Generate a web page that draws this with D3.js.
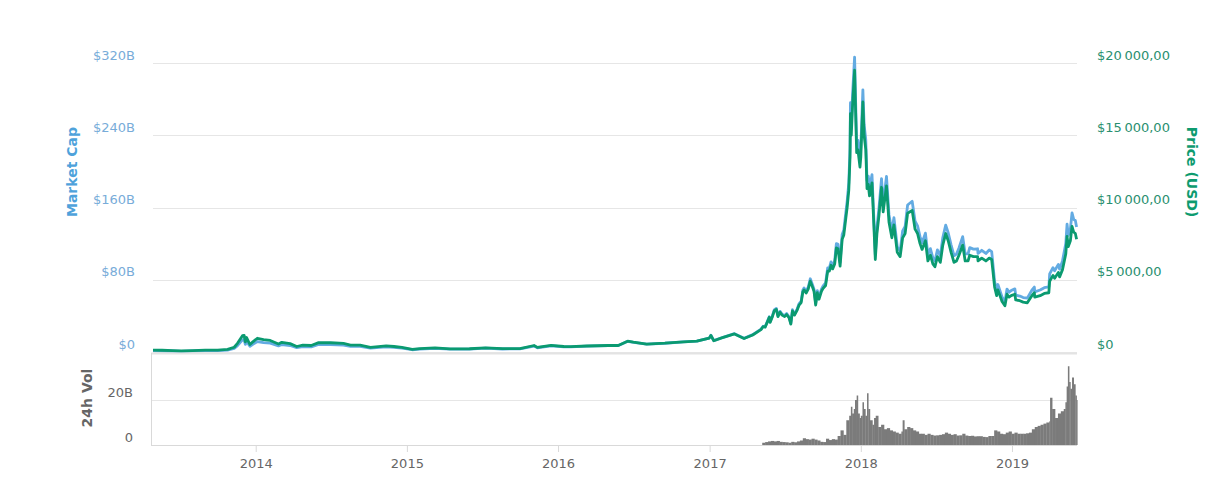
<!DOCTYPE html>
<html><head><meta charset="utf-8">
<script src="https://cdn.jsdelivr.net/npm/d3@7"></script>
<style>
html,body{margin:0;padding:0;background:#fff;}
svg{display:block;font-family:"DejaVu Sans",sans-serif;}
</style></head><body>
<svg id="chart" width="1214" height="493"></svg>
<script>
// ---- data ----
const dates = ["2013-04-28","2013-05-20","2013-06-15","2013-07-05","2013-08-01","2013-09-01","2013-10-01","2013-10-25","2013-11-10","2013-11-18","2013-11-30","2013-12-04","2013-12-07","2013-12-10","2013-12-18","2013-12-25","2014-01-05","2014-01-20","2014-02-05","2014-02-25","2014-03-05","2014-03-25","2014-04-10","2014-04-25","2014-05-15","2014-06-02","2014-07-01","2014-08-01","2014-08-18","2014-09-10","2014-10-05","2014-11-12","2014-12-01","2014-12-20","2015-01-14","2015-02-01","2015-03-10","2015-04-15","2015-06-01","2015-07-10","2015-08-20","2015-10-01","2015-11-04","2015-11-12","2015-12-15","2016-01-15","2016-02-01","2016-03-10","2016-05-01","2016-05-25","2016-06-17","2016-07-01","2016-08-02","2016-09-15","2016-10-30","2016-12-01","2016-12-31","2017-01-04","2017-01-11","2017-02-01","2017-03-02","2017-03-25","2017-04-15",
"2017-05-05","2017-05-10","2017-05-15","2017-05-20","2017-05-25","2017-05-27","2017-06-01","2017-06-06","2017-06-11","2017-06-15","2017-06-20","2017-06-25","2017-07-01","2017-07-06","2017-07-12","2017-07-16","2017-07-20","2017-07-25","2017-07-31","2017-08-05","2017-08-10","2017-08-14","2017-08-17","2017-08-22","2017-08-27","2017-09-01","2017-09-05","2017-09-10","2017-09-14","2017-09-18","2017-09-22","2017-09-28","2017-10-02","2017-10-08","2017-10-13","2017-10-17","2017-10-21","2017-10-25","2017-10-30","2017-11-03","2017-11-07","2017-11-12","2017-11-17","2017-11-21","2017-11-26","2017-11-29","2017-12-03","2017-12-06","2017-12-07","2017-12-09","2017-12-12","2017-12-17","2017-12-20","2017-12-22","2017-12-25","2017-12-30",
"2018-01-01","2018-01-06","2018-01-09","2018-01-13","2018-01-16","2018-01-19","2018-01-22","2018-01-28","2018-02-01","2018-02-05","2018-02-09","2018-02-14","2018-02-20","2018-02-24","2018-03-04","2018-03-10","2018-03-17","2018-03-22","2018-03-30","2018-04-06","2018-04-12","2018-04-18","2018-04-24","2018-05-05","2018-05-12","2018-05-18","2018-05-24","2018-05-29","2018-06-06","2018-06-12","2018-06-18","2018-06-24","2018-06-29","2018-07-05","2018-07-12","2018-07-18","2018-07-25","2018-07-31","2018-08-07","2018-08-14","2018-08-20","2018-08-26","2018-09-04","2018-09-10","2018-09-17","2018-09-21","2018-09-30","2018-10-10","2018-10-11","2018-10-20","2018-10-30","2018-11-07","2018-11-13","2018-11-16","2018-11-20","2018-11-25","2018-11-28","2018-12-03","2018-12-08","2018-12-15","2018-12-20","2018-12-25","2018-12-30",
"2019-01-08","2019-01-10","2019-01-20","2019-01-28","2019-02-07","2019-02-18","2019-02-24","2019-02-25","2019-03-10","2019-03-20","2019-03-31","2019-04-02","2019-04-10","2019-04-14","2019-04-23","2019-04-26","2019-05-03","2019-05-11","2019-05-14","2019-05-17","2019-05-22","2019-05-26","2019-05-30","2019-06-03","2019-06-06"];
const price = [135,122,100,70,100,135,125,180,330,600,1130,1150,700,1000,520,700,950,850,800,550,670,580,380,480,450,650,640,590,470,480,320,420,380,320,180,230,290,220,225,290,230,240,450,320,460,380,375,415,450,450,750,680,550,610,700,750,960,1150,780,990,1250,930,1180,
1550,1750,1720,2050,2400,2050,2400,2850,2950,2450,2750,2550,2450,2600,2350,1930,2850,2550,2880,3250,3420,4150,4300,4080,4350,4900,4600,4200,3250,4100,3650,4200,4400,4600,5600,5600,6000,5750,6100,7200,7150,5950,7800,8100,9300,10000,11200,13500,16500,15000,17000,19500,16000,13800,14000,12800,
13500,17300,15000,14000,11300,11600,10800,11700,9100,6400,8200,9500,11400,9700,11500,9000,7900,8800,6900,6600,7900,8200,9600,9800,8500,8200,7500,7100,7700,6300,6700,6100,5900,6600,6200,7400,8200,7700,6900,6200,6300,6700,7400,6300,6300,6700,6600,6600,6300,6500,6300,6500,6400,5600,4500,3900,4300,3900,3500,3200,4000,3800,3900,
4000,3600,3550,3450,3400,3900,4100,3800,3900,4050,4100,4900,5300,5100,5500,5200,5700,6800,8000,7300,7700,8700,8300,8200,7800];
const mcap = [1.5,1.36,1.13,0.8,1.15,1.57,1.47,2.12,3.9,7.1,13.5,13.8,8.4,12.0,6.3,8.5,11.6,10.4,9.8,6.8,8.3,7.2,4.8,6.0,5.7,8.3,8.3,7.7,6.2,6.3,4.3,5.6,5.1,4.4,2.5,3.2,4.0,3.1,3.2,4.2,3.3,3.5,6.6,4.7,6.9,5.7,5.7,6.4,7.0,7.0,11.8,10.7,8.7,9.7,11.2,12.0,15.4,18.5,12.6,16.0,20.3,15.1,19.2,
25.3,28.5,28.0,33.4,39.1,33.4,39.3,46.6,48.3,40.1,45.0,41.7,40.3,42.7,38.6,31.7,46.8,41.9,47.3,53.6,56.4,68.4,70.9,67.3,71.7,81.1,76.1,69.5,53.8,67.9,60.4,69.5,73.1,76.4,93.0,93.0,99.7,95.5,101.3,120.1,119.3,99.2,130.1,135.1,155.1,166.8,187.4,225.9,276.0,251.0,284.5,326.6,268.0,231.2,234.5,214.5,
226.5,290.3,251.7,235.0,189.6,194.7,181.3,196.4,153.2,107.8,138.1,160.0,192.0,163.3,194.4,152.1,133.5,148.7,116.6,111.9,134.0,139.1,162.8,166.9,144.8,139.6,127.7,120.9,131.6,107.7,114.5,104.2,100.8,113.1,106.3,126.8,140.5,132.0,118.7,106.6,108.4,115.2,127.7,108.7,108.7,115.6,113.9,114.3,109.1,112.6,109.1,113.0,111.2,97.3,78.2,67.8,74.7,68.0,61.0,55.8,69.7,66.2,68.0,
69.9,62.9,62.0,60.3,59.6,68.4,71.9,66.6,68.6,71.2,72.1,86.4,93.4,89.9,97.0,91.7,100.9,120.4,141.6,129.2,136.3,154.0,146.9,145.6,138.5];

const volDates = ["2017-05-08","2017-05-15","2017-05-22","2017-05-29","2017-06-05","2017-06-12","2017-06-19","2017-06-26","2017-07-03","2017-07-10","2017-07-17","2017-07-24","2017-07-31","2017-08-07","2017-08-14","2017-08-21","2017-08-28","2017-09-04","2017-09-11","2017-09-18","2017-09-25","2017-10-02","2017-10-09","2017-10-16","2017-10-23","2017-10-30","2017-11-06","2017-11-13","2017-11-20","2017-11-27","2017-12-04","2017-12-08","2017-12-11","2017-12-15","2017-12-18","2017-12-22","2017-12-25","2017-12-29","2018-01-01","2018-01-05","2018-01-08","2018-01-12","2018-01-16","2018-01-19","2018-01-23","2018-01-29","2018-02-02","2018-02-06","2018-02-12","2018-02-19","2018-02-26","2018-03-05","2018-03-12","2018-03-19","2018-03-26","2018-04-02","2018-04-09","2018-04-12","2018-04-16","2018-04-23","2018-04-30","2018-05-07","2018-05-14","2018-05-21","2018-05-28","2018-06-04","2018-06-11","2018-06-18","2018-06-25","2018-07-02","2018-07-09","2018-07-16","2018-07-23","2018-07-30","2018-08-06","2018-08-13","2018-08-20","2018-08-27","2018-09-03","2018-09-10","2018-09-17","2018-09-24","2018-10-01","2018-10-08","2018-10-15","2018-10-22","2018-10-29","2018-11-05","2018-11-12","2018-11-19","2018-11-26","2018-12-03","2018-12-10","2018-12-17","2018-12-24","2018-12-31","2019-01-07","2019-01-14","2019-01-21","2019-01-28","2019-02-04","2019-02-11","2019-02-18","2019-02-25","2019-03-04","2019-03-11","2019-03-18","2019-03-25","2019-04-01","2019-04-03","2019-04-08","2019-04-15","2019-04-22","2019-04-29","2019-05-06","2019-05-10","2019-05-13","2019-05-16","2019-05-19","2019-05-22","2019-05-26","2019-05-30","2019-06-03","2019-06-06"];
const volume = [1.0,1.3,1.6,1.8,1.6,1.8,1.4,1.3,1.2,1.0,1.4,1.2,1.6,2.0,3.0,2.6,2.4,2.8,2.4,2.0,1.4,1.3,2.8,2.2,2.6,2.4,4.0,6.5,4.5,11,13,17,14,16,20,22,14,12,13,19,16,13,23,16,11,9,12,13,8,9,7,7.5,6.5,6,5.5,5,6,11,7,8,7.5,6.5,6,5,5,4.5,5,4.5,4.2,4.3,4.5,4.8,5.5,5,4.5,4.8,4.2,4.3,5,4.2,4.0,4.1,3.8,3.9,3.9,3.6,3.5,4.0,4.0,6.5,6,5,4.8,5.5,6,5,5.5,5,5,5,5.2,5.5,7,8,8.5,9,9.5,10,10.5,21,16,12,14,15,16,19,26,35,28,25,30,27,22,20];

const capTicks = [0,80,160,240,320];
const capTickLabels = ["$0","$80B","$160B","$240B","$320B"];
const priceTicks = [0,5000,10000,15000,20000];
const priceTickLabels = ["$0","$5\u2009000,00","$10\u2009000,00","$15\u2009000,00","$20\u2009000,00"];
const volTicks = [0,20];
const volTickLabels = ["0","20B"];
const yearTicks = ["2014-01-01","2015-01-01","2016-01-01","2017-01-01","2018-01-01","2019-01-01"];
const yearLabels = ["2014","2015","2016","2017","2018","2019"];

// ---- setup ----
const parse = d3.timeParse("%Y-%m-%d");
const svg = d3.select("#chart");
const L = 153, R = 1077;
const x = d3.scaleTime().domain([parse("2013-04-28"), parse("2019-06-07")]).range([L, R]);
const yCap = d3.scaleLinear().domain([0,320]).range([352,63]);
const yPrice = d3.scaleLinear().domain([0,20000]).range([352,63]);
const yVol = d3.scaleLinear().domain([0,40]).range([445,355]);

const blueLabel = "#78acd9", blueTitle = "#4ea2db", blueLine = "#63abe2";
const greenLabel = "#2a8f6f", greenTitle = "#0e9b6f", greenLine = "#0a9a70";
const grayText = "#666666";

// gridlines main
svg.append("g").selectAll("line").data(capTicks).join("line")
  .attr("x1", L).attr("x2", R)
  .attr("y1", d => Math.round(yCap(d)) + 0.5).attr("y2", d => Math.round(yCap(d)) + 0.5)
  .attr("stroke", "#e6e6e6").attr("stroke-width", 1);

// left axis labels
const leftAxis = d3.axisLeft(yCap).tickValues(capTicks).tickFormat((d,i) => capTickLabels[i]).tickSize(0).tickPadding(0);
const gl = svg.append("g").attr("transform", `translate(135,-8)`).call(leftAxis);
gl.select(".domain").remove();
gl.selectAll("text").attr("fill", blueLabel).style("font-size","13px").style("font-family","DejaVu Sans, sans-serif");

// right axis labels
const rightAxis = d3.axisRight(yPrice).tickValues(priceTicks).tickFormat((d,i) => priceTickLabels[i]).tickSize(0).tickPadding(0);
const gr = svg.append("g").attr("transform", `translate(1097,-8)`).call(rightAxis);
gr.select(".domain").remove();
gr.selectAll("text").attr("fill", greenLabel).style("font-size","13px").style("font-family","DejaVu Sans, sans-serif");

// axis titles
svg.append("text").attr("transform","translate(77,172) rotate(-90)").attr("text-anchor","middle")
  .attr("fill", blueTitle).style("font-size","14px").style("font-weight","bold").text("Market Cap");
svg.append("text").attr("transform","translate(1187,172) rotate(90)").attr("text-anchor","middle")
  .attr("fill", greenTitle).style("font-size","14px").style("font-weight","bold").text("Price (USD)");
svg.append("text").attr("transform","translate(92,398) rotate(-90)").attr("text-anchor","middle")
  .attr("fill", grayText).style("font-size","14px").style("font-weight","bold").text("24h Vol");

// lines
const pts = dates.map((d,i) => ({date: parse(d), price: price[i], cap: mcap[i]}));
const capLine = d3.line().x(d => x(d.date)).y(d => yCap(d.cap)).curve(d3.curveLinear);
const priceLine = d3.line().x(d => x(d.date)).y(d => yPrice(d.price)).curve(d3.curveLinear);
svg.append("path").datum(pts).attr("d", capLine).attr("fill","none").attr("stroke", blueLine).attr("stroke-width", 2.8).attr("stroke-linejoin","round");
svg.append("path").datum(pts).attr("d", priceLine).attr("fill","none").attr("stroke", greenLine).attr("stroke-width", 2.8).attr("stroke-linejoin","round");

// volume panel
svg.append("line").attr("x1",151).attr("x2",R).attr("y1",353.5).attr("y2",353.5).attr("stroke","#e3e3e3").attr("stroke-width",2);
svg.append("g").selectAll("line").data(volTicks.filter(d=>d>0)).join("line")
  .attr("x1", 152).attr("x2", R)
  .attr("y1", d => Math.round(yVol(d)) + 0.5).attr("y2", d => Math.round(yVol(d)) + 0.5)
  .attr("stroke", "#e6e6e6");

const vpts = volDates.map((d,i) => ({date: parse(d), v: volume[i]}));
svg.append("g").selectAll("rect").data(vpts).join("rect")
  .attr("x", d => x(d.date))
  .attr("width", (d,i) => Math.max(1, (i < vpts.length-1 ? x(vpts[i+1].date) : x(parse("2019-06-07"))) - x(d.date) + 0.3))
  .attr("y", d => yVol(d.v))
  .attr("height", d => yVol(0) - yVol(d.v))
  .attr("fill", "#7b7b7b");

// volume axis labels
const volAxis = d3.axisLeft(yVol).tickValues(volTicks).tickFormat((d,i) => volTickLabels[i]).tickSize(0).tickPadding(0);
const gv = svg.append("g").attr("transform", `translate(133,-8)`).call(volAxis);
gv.select(".domain").remove();
gv.selectAll("text").attr("fill", grayText).style("font-size","13px").style("font-family","DejaVu Sans, sans-serif");

// panel borders
svg.append("line").attr("x1",151.5).attr("x2",151.5).attr("y1",353).attr("y2",445).attr("stroke","#d9d9d9");
svg.append("line").attr("x1",151).attr("x2",R).attr("y1",445.5).attr("y2",445.5).attr("stroke","#d9d9d9");

// x axis
const xAxis = d3.axisBottom(x).tickValues(yearTicks.map(parse)).tickFormat((d,i) => yearLabels[i]).tickSize(7).tickPadding(7);
const gx = svg.append("g").attr("transform","translate(0,445)").call(xAxis);
gx.select(".domain").remove();
gx.selectAll(".tick line").attr("stroke","#d9d9d9");
gx.selectAll("text").attr("fill", grayText).style("font-size","13px").style("font-family","DejaVu Sans, sans-serif");
</script>
</body></html>
